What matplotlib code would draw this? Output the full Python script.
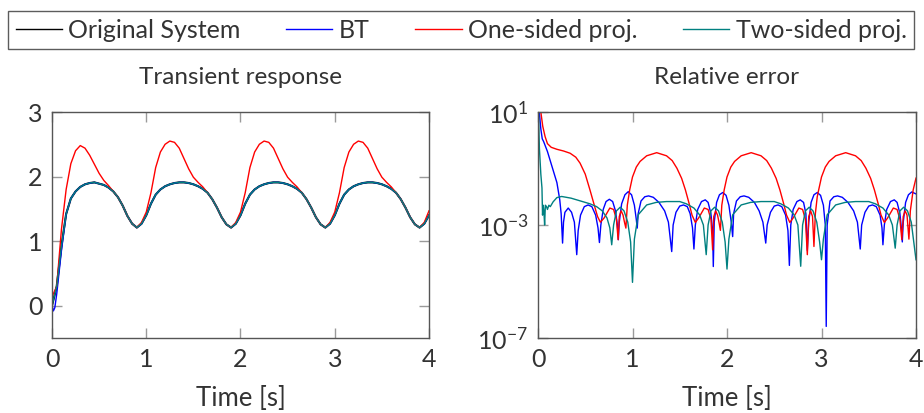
import numpy as np
import matplotlib.pyplot as plt
from matplotlib.lines import Line2D

plt.rcParams['font.family'] = ['Lato', 'DejaVu Sans']
plt.rcParams['mathtext.fontset'] = 'custom'
plt.rcParams['mathtext.rm'] = 'Lato'
plt.rcParams['mathtext.it'] = 'Lato:italic'
plt.rcParams['axes.unicode_minus'] = True

TXT = '#333333'
C_ORIG = '#000000'
C_BT = '#0000ff'
C_ONE = '#ff0000'
C_TWO = '#008080'

# Transient response, sampled every 0.05 s
t_resp = np.linspace(0.0, 4.0, 81)
y_orig = [0.00, 0.30, 0.92, 1.42, 1.66, 1.77, 1.84, 1.88, 1.90, 1.91,
          1.89, 1.87, 1.83, 1.77, 1.68, 1.55, 1.39, 1.27, 1.21, 1.27,
          1.40, 1.58, 1.72, 1.80, 1.85, 1.88, 1.90, 1.91, 1.91, 1.90,
          1.88, 1.85, 1.81, 1.75, 1.65, 1.52, 1.37, 1.26, 1.21, 1.27,
          1.40, 1.58, 1.72, 1.80, 1.85, 1.88, 1.90, 1.91, 1.91, 1.90,
          1.88, 1.85, 1.81, 1.75, 1.65, 1.52, 1.37, 1.26, 1.21, 1.27,
          1.40, 1.58, 1.72, 1.80, 1.85, 1.88, 1.90, 1.91, 1.91, 1.90,
          1.88, 1.85, 1.81, 1.75, 1.65, 1.52, 1.37, 1.26, 1.21, 1.27,
          1.40]
y_one = [0.14, 0.30, 1.18, 1.80, 2.20, 2.40, 2.48, 2.44, 2.33, 2.19,
         2.05, 1.94, 1.86, 1.77, 1.68, 1.55, 1.39, 1.27, 1.21, 1.29,
         1.45, 1.75, 2.14, 2.38, 2.50, 2.55, 2.53, 2.44, 2.28, 2.12,
         1.99, 1.91, 1.84, 1.75, 1.65, 1.52, 1.37, 1.26, 1.21, 1.29,
         1.45, 1.75, 2.14, 2.38, 2.50, 2.55, 2.53, 2.44, 2.28, 2.12,
         1.99, 1.91, 1.84, 1.75, 1.65, 1.52, 1.37, 1.26, 1.21, 1.29,
         1.45, 1.75, 2.14, 2.38, 2.50, 2.55, 2.53, 2.44, 2.28, 2.12,
         1.99, 1.91, 1.84, 1.75, 1.65, 1.52, 1.37, 1.26, 1.21, 1.29,
         1.47]
# BT differs only at the start (small undershoot)
t_bt_head = [0.0, 0.015, 0.03, 0.05, 0.10]
y_bt_head = [0.0, -0.08, -0.03, 0.18, 0.85]
y_two = y_orig

# Relative error (log10 of value)
t_err_bt = [0.0, 0.03, 0.045, 0.06, 0.10, 0.15, 0.20, 0.23, 0.245, 0.26,
            0.27, 0.285, 0.32, 0.355, 0.385, 0.41,
            0.425, 0.45, 0.49, 0.53, 0.57, 0.61, 0.635, 0.65,
            0.665, 0.69, 0.72, 0.755, 0.79, 0.82, 0.84, 0.85,
            0.86, 0.885, 0.92, 0.955, 0.99, 1.02, 1.04, 1.05,
            1.06, 1.09, 1.13, 1.17, 1.22, 1.28, 1.34, 1.38, 1.415,
            1.43, 1.46, 1.50, 1.54, 1.58, 1.61, 1.635, 1.65,
            1.665, 1.69, 1.73, 1.77, 1.80, 1.83, 1.848, 1.855,
            1.865, 1.89, 1.92, 1.955, 1.99, 2.02, 2.045, 2.06,
            2.07, 2.10, 2.14, 2.18, 2.23, 2.29, 2.34, 2.38, 2.41,
            2.425, 2.46, 2.50, 2.54, 2.58, 2.62, 2.645, 2.66,
            2.675, 2.70, 2.74, 2.775, 2.81, 2.835, 2.85,
            2.865, 2.89, 2.92, 2.955, 2.99, 3.02, 3.04, 3.05,
            3.06, 3.09, 3.13, 3.17, 3.22, 3.28, 3.34, 3.38, 3.41,
            3.425, 3.46, 3.50, 3.54, 3.58, 3.62, 3.64, 3.65,
            3.665, 3.69, 3.73, 3.77, 3.80, 3.83, 3.845, 3.855,
            3.865, 3.89, 3.92, 3.955, 4.0]
e_bt = [1.5, 0.4, 0.05, -0.05, -0.4, -0.95, -1.5, -2.1, -2.6, -3.64,
        -2.9, -2.55, -2.40, -2.55, -2.9, -4.05,
        -3.2, -2.65, -2.35, -2.29, -2.35, -2.65, -3.1, -3.62,
        -3.0, -2.45, -2.17, -2.09, -2.17, -2.5, -3.0, -3.52,
        -2.9, -2.25, -1.93, -1.82, -1.93, -2.3, -2.8, -3.11,
        -2.6, -2.15, -2.0, -1.97, -2.02, -2.2, -2.5, -2.9, -3.94,
        -3.0, -2.55, -2.33, -2.29, -2.35, -2.6, -3.1, -3.85,
        -3.0, -2.45, -2.17, -2.11, -2.2, -2.6, -3.2, -4.47,
        -2.9, -2.2, -1.93, -1.85, -1.95, -2.3, -2.9, -3.41,
        -2.6, -2.15, -2.0, -1.97, -2.02, -2.2, -2.5, -2.9, -3.64,
        -3.0, -2.55, -2.33, -2.29, -2.35, -2.65, -3.2, -4.43,
        -3.0, -2.45, -2.17, -2.11, -2.2, -2.6, -3.9,
        -2.9, -2.2, -1.93, -1.85, -1.95, -2.3, -3.0, -6.59,
        -3.0, -2.15, -2.0, -1.97, -2.02, -2.2, -2.5, -2.9, -3.85,
        -3.0, -2.55, -2.33, -2.29, -2.35, -2.65, -3.1, -3.70,
        -3.0, -2.45, -2.17, -2.11, -2.2, -2.6, -3.1, -3.6,
        -2.9, -2.2, -1.93, -1.83, -1.9]

t_err_one = [0.0, 0.03, 0.05, 0.075, 0.10, 0.14, 0.20, 0.27, 0.34, 0.40,
             0.445, 0.50, 0.55, 0.60, 0.63, 0.66, 0.70, 0.76, 0.80, 0.83,
             0.848, 0.86, 0.88, 0.90, 0.915, 0.93, 0.945, 0.97, 1.00, 1.04,
             1.08, 1.15, 1.256, 1.36, 1.42, 1.47, 1.52, 1.56, 1.60, 1.63,
             1.665, 1.70, 1.76, 1.80, 1.83, 1.848, 1.86, 1.88, 1.90, 1.915,
             1.93, 1.945, 1.97, 2.00, 2.04, 2.08, 2.15, 2.256, 2.36, 2.42,
             2.47, 2.52, 2.56, 2.60, 2.63, 2.665, 2.70, 2.76, 2.80, 2.83,
             2.85, 2.865, 2.885, 2.905, 2.92, 2.935, 2.955, 2.97, 3.00, 3.04,
             3.08, 3.15, 3.256, 3.36, 3.42, 3.47, 3.52, 3.56, 3.60, 3.63,
             3.665, 3.70, 3.76, 3.80, 3.83, 3.85, 3.865, 3.885, 3.905, 3.925,
             3.94, 3.97, 4.0]
e_one = [1.5, 1.0, 0.5, 0.13, -0.12, -0.25, -0.32, -0.38, -0.46, -0.6,
         -0.81, -1.2, -1.76, -2.35, -2.7, -2.90, -2.75, -2.40, -2.45, -2.8,
         -3.52, -2.7, -2.5, -2.65, -2.9, -3.11, -2.3, -1.76, -1.3, -0.95,
         -0.75, -0.55, -0.44, -0.55, -0.72, -0.99, -1.35, -1.76, -2.25, -2.65,
         -2.91, -2.75, -2.40, -2.45, -2.8, -3.88, -2.7, -2.5, -2.65, -2.9,
         -3.19, -2.3, -1.76, -1.3, -0.95, -0.75, -0.55, -0.44, -0.55, -0.72,
         -0.99, -1.35, -1.76, -2.25, -2.65, -2.91, -2.75, -2.40, -2.45, -2.8,
         -4.05, -2.7, -2.5, -2.7, -3.76, -2.6, -2.0, -1.76, -1.3, -0.95,
         -0.75, -0.55, -0.44, -0.55, -0.72, -0.99, -1.35, -1.76, -2.25, -2.65,
         -2.91, -2.75, -2.40, -2.45, -2.8, -3.52, -2.7, -2.5, -2.65, -3.5,
         -2.5, -1.76, -1.34]

t_err_two = [0.0, 0.005, 0.015, 0.03, 0.042, 0.048, 0.055, 0.062, 0.07, 0.078,
             0.09, 0.10, 0.115, 0.13, 0.16, 0.20, 0.25, 0.35, 0.45, 0.55,
             0.62, 0.68, 0.73, 0.76, 0.78, 0.80, 0.83, 0.87, 0.91, 0.95,
             0.98, 1.00, 1.02, 1.06, 1.15, 1.25, 1.36, 1.50, 1.57, 1.65,
             1.71, 1.75, 1.78, 1.80, 1.83, 1.87, 1.91, 1.95, 1.98, 2.00,
             2.02, 2.06, 2.15, 2.25, 2.36, 2.50, 2.57, 2.65, 2.71, 2.75,
             2.78, 2.80, 2.83, 2.87, 2.91, 2.95, 2.98, 3.00, 3.02, 3.06,
             3.15, 3.25, 3.36, 3.50, 3.57, 3.65, 3.71, 3.75, 3.78, 3.80,
             3.83, 3.87, 3.91, 3.95, 4.0]
e_two = [1.5, 1.0, -0.3, -1.2, -1.69, -2.65, -2.3, -2.5, -3.0, -2.3,
         -2.35, -2.45, -2.3, -2.35, -2.18, -2.03, -1.99, -2.05, -2.15, -2.25,
         -2.35, -2.5, -2.75, -3.1, -3.70, -3.0, -2.5, -2.37, -2.5, -2.9,
         -3.6, -5.03, -3.5, -2.64, -2.29, -2.2, -2.17, -2.17, -2.25, -2.4,
         -2.64, -3.0, -4.05, -3.0, -2.5, -2.37, -2.5, -2.9, -3.6, -4.56,
         -3.5, -2.64, -2.29, -2.2, -2.17, -2.17, -2.25, -2.4, -2.64, -3.0,
         -4.46, -3.0, -2.5, -2.37, -2.5, -2.9, -3.6, -4.23, -3.5, -2.64,
         -2.29, -2.2, -2.17, -2.17, -2.25, -2.4, -2.64, -3.0, -3.82, -3.0,
         -2.5, -2.37, -2.5, -2.9, -4.23]

fig = plt.figure(figsize=(9.24, 4.13), dpi=100)
W, H = 924, 413
ax1 = fig.add_axes([52 / W, 1 - 338 / H, 377 / W, 226 / H])
ax2 = fig.add_axes([538 / W, 1 - 338 / H, 378 / W, 226 / H])

# left: transient response
ax1.plot(t_resp, y_orig, color=C_ORIG, lw=1.5)
ax1.plot(t_bt_head + list(t_resp[3:]), y_bt_head + y_orig[3:], color=C_BT, lw=1.0)
ax1.plot(t_resp, y_one, color=C_ONE, lw=1.0)
ax1.plot(t_resp, y_two, color=C_TWO, lw=1.0)
ax1.set_xlim(0, 4)
ax1.set_ylim(-0.5, 3)
ax1.set_xticks([0, 1, 2, 3, 4])
ax1.set_yticks([0, 1, 2, 3])
ax1.set_title('Transient response', fontsize=17.5, color=TXT, pad=20)
ax1.set_xlabel('Time [s]', fontsize=18.5, color=TXT, labelpad=11)

# right: relative error
ax2.plot(t_err_bt, 10.0 ** np.array(e_bt), color=C_BT, lw=1.0)
ax2.plot(t_err_one, 10.0 ** np.array(e_one), color=C_ONE, lw=1.0)
ax2.plot(t_err_two, 10.0 ** np.array(e_two), color=C_TWO, lw=1.0)
ax2.set_yscale('log')
ax2.set_xlim(0, 4)
ax2.set_ylim(1e-7, 1e1)
ax2.set_xticks([0, 1, 2, 3, 4])
ax2.set_yticks([1e1, 1e-3, 1e-7])
ax2.minorticks_off()
ax2.set_title('Relative error', fontsize=17.5, color=TXT, pad=20)
ax2.set_xlabel('Time [s]', fontsize=18.5, color=TXT, labelpad=11)

for ax in (ax1, ax2):
    ax.tick_params(direction='in', top=True, right=True, length=7, width=1,
                   color='#9a9a9a', labelcolor=TXT, labelsize=18, pad=7)
    for s in ax.spines.values():
        s.set_color('#555555')
        s.set_linewidth(1.0)

handles = [Line2D([], [], color=C_ORIG, lw=1.0),
           Line2D([], [], color=C_BT, lw=1.0),
           Line2D([], [], color=C_ONE, lw=1.0),
           Line2D([], [], color=C_TWO, lw=1.0)]
labels = ['Original System', 'BT', 'One-sided proj.', 'Two-sided proj.']
leg = fig.legend(handles, labels, loc='center', mode='expand', ncol=4,
                 bbox_to_anchor=(8 / W, 1 - 50 / H, 906 / W, 40 / H),
                 borderaxespad=0, fontsize=18, frameon=True, fancybox=False,
                 handlelength=1.85, handletextpad=0.25, borderpad=0.3,
                 labelcolor=TXT)
leg.get_frame().set_edgecolor('#333333')
leg.get_frame().set_linewidth(1.0)

fig.savefig('out.png', dpi=100)
